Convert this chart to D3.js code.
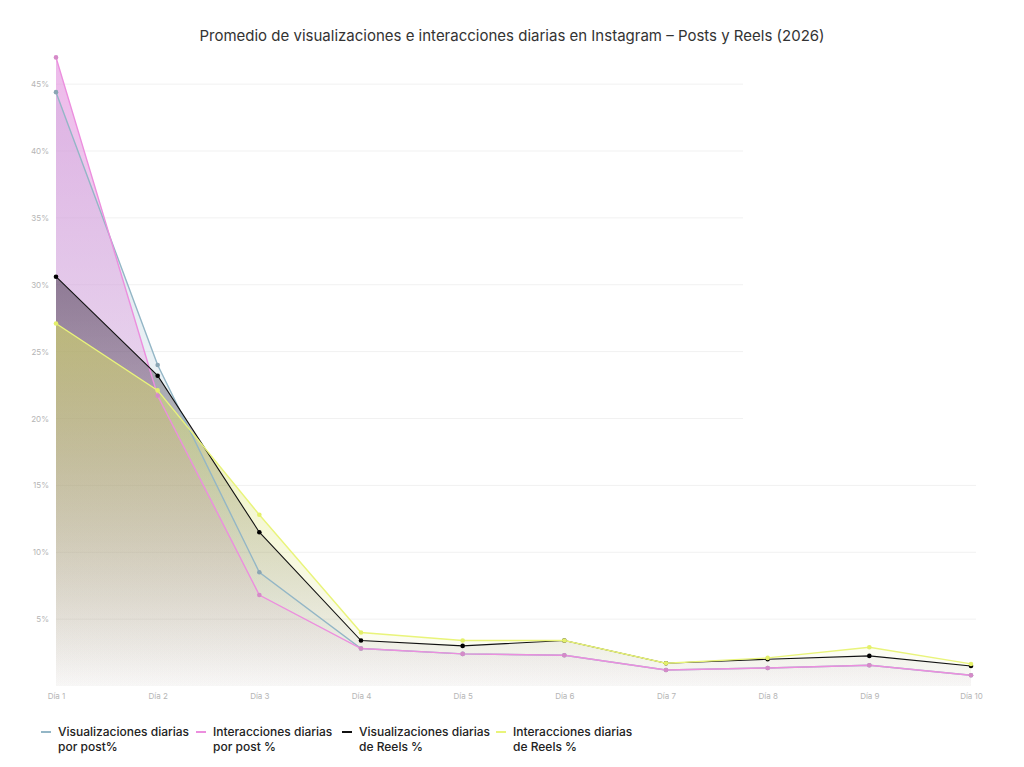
<!DOCTYPE html>
<html>
<head>
<meta charset="utf-8">
<script src="https://cdn.jsdelivr.net/npm/d3@7"></script>
<style>
  body { margin: 0; background: #fff; }
  svg { display: block; font-family: Inter, 'Noto Sans', sans-serif; }
</style>
</head>
<body>
<div id="chart"></div>
<script>
// Data
let days = ['Día 1', 'Día 2', 'Día 3', 'Día 4', 'Día 5', 'Día 6', 'Día 7', 'Día 8', 'Día 9', 'Día 10'];
let viewsPost = [44.4, 24.0, 8.5, 2.8, 2.4, 2.3, 1.2, 1.35, 1.55, 0.8];
let interPost = [47.0, 21.7, 6.8, 2.8, 2.4, 2.3, 1.2, 1.35, 1.55, 0.8];
let viewsReels = [30.6, 23.2, 11.5, 3.4, 3.0, 3.4, 1.7, 2.0, 2.25, 1.5];
let interReels = [27.1, 22.1, 12.8, 4.0, 3.4, 3.4, 1.7, 2.1, 2.9, 1.65];
let seriesNames = ['Visualizaciones diarias|por post%', 'Interacciones diarias|por post %', 'Visualizaciones diarias|de Reels %', 'Interacciones diarias|de Reels %'];
let seriesColors = ['#93b6c6', '#ec8ede', '#111111', '#e9f47a'];
let pointColors = ['#8aa6b4', '#d58ac8', '#000000', '#e4f06a'];
let fillColors = ['#a9c6d4', '#e396df', '#1a1020', '#d8e060'];
let fillOpacity = [0.45, 0.66, 0.42, 0.55];
let yTicks = [5, 10, 15, 20, 25, 30, 35, 40, 45];

let width = 1024;
let height = 767;

let svg = d3.select('#chart')
	.append('svg')
	.attr('width', width)
	.attr('height', height);

let x = d3.scalePoint().domain(days).range([56, 971]);
let y = d3.scaleLinear().domain([0, 50]).range([686, 17.25]);

let defs = svg.append('defs');

// title
svg.append('text')
	.attr('x', 512)
	.attr('y', 41)
	.attr('text-anchor', 'middle')
	.attr('font-size', 15)
	.attr('fill', '#333')
	.text('Promedio de visualizaciones e interacciones diarias en Instagram – Posts y Reels (2026)');

// gridlines (the upper ones stop short in the original)
svg.append('g')
	.selectAll('line')
	.data(yTicks)
	.enter()
	.append('line')
	.attr('x1', 56)
	.attr('x2', function(d) { return d >= 20 ? 743 : 976; })
	.attr('y1', function(d) { return y(d); })
	.attr('y2', function(d) { return y(d); })
	.attr('stroke', '#f1f1f1')
	.attr('stroke-width', 1);

// y axis labels
let yAxis = svg.append('g')
	.attr('transform', 'translate(52,0)')
	.call(d3.axisLeft(y).tickValues(yTicks).tickSize(0).tickFormat(function(d) { return d + '%'; }));
yAxis.select('.domain').remove();
yAxis.selectAll('text')
	.attr('fill', '#b5b5b5')
	.attr('font-size', 8)
	.attr('font-family', 'Inter, sans-serif');

// x axis labels
let xAxis = svg.append('g')
	.attr('transform', 'translate(0,690)')
	.call(d3.axisBottom(x).tickSize(0));
xAxis.select('.domain').remove();
xAxis.selectAll('text')
	.attr('fill', '#b5b5b5')
	.attr('font-size', 8)
	.attr('font-family', 'Inter, sans-serif');

let series = [viewsPost, interPost, viewsReels, interReels];

let area = d3.area()
	.x(function(d, i) { return x(days[i]); })
	.y0(y(0))
	.y1(function(d) { return y(d); });

let line = d3.line()
	.x(function(d, i) { return x(days[i]); })
	.y(function(d) { return y(d); });

// areas, blue first then pink, black, yellow on top
for (let i = 0; i < series.length; i++) {
	let grad = defs.append('linearGradient')
		.attr('id', 'grad' + i)
		.attr('x1', 0).attr('y1', 0)
		.attr('x2', 0).attr('y2', 1);
	grad.append('stop')
		.attr('offset', '0%')
		.attr('stop-color', fillColors[i])
		.attr('stop-opacity', fillOpacity[i]);
	grad.append('stop')
		.attr('offset', '100%')
		.attr('stop-color', fillColors[i])
		.attr('stop-opacity', 0.02);

	svg.append('path')
		.datum(series[i])
		.attr('fill', 'url(#grad' + i + ')')
		.attr('d', area);
}

for (let i = 0; i < series.length; i++) {
	svg.append('path')
		.datum(series[i])
		.attr('fill', 'none')
		.attr('stroke', seriesColors[i])
		.attr('stroke-width', i == 2 ? 1.1 : 1.4)
		.attr('d', line);

	svg.append('g')
		.selectAll('circle')
		.data(series[i])
		.enter()
		.append('circle')
		.attr('cx', function(d, j) { return x(days[j]); })
		.attr('cy', function(d) { return y(d); })
		.attr('r', 2.3)
		.attr('fill', pointColors[i]);
}

// legend
let legendX = [41, 196, 342, 496];
for (let i = 0; i < seriesNames.length; i++) {
	let lg = svg.append('g').attr('transform', 'translate(' + legendX[i] + ',0)');
	lg.append('rect')
		.attr('x', 0)
		.attr('y', 731)
		.attr('width', 10)
		.attr('height', 2)
		.attr('fill', seriesColors[i]);
	let parts = seriesNames[i].split('|');
	for (let j = 0; j < parts.length; j++) {
		lg.append('text')
			.attr('x', 17)
			.attr('y', 736 + j * 15)
			.attr('font-size', 12)
			.attr('font-weight', 500)
			.attr('fill', '#222')
			.text(parts[j]);
	}
}
</script>
</body>
</html>
